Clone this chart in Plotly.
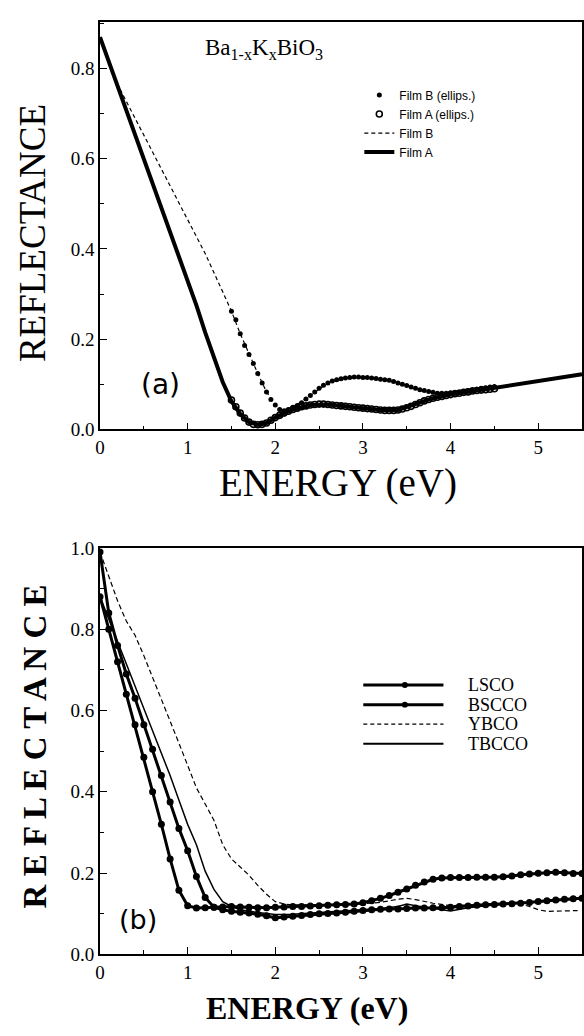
import plotly.graph_objects as go

W, H = 584, 1036
def px(x): return x / W
def py(y): return 1 - y / H

# ---------------- Panel (a): Ba1-xKxBiO3 ----------------
filmA_line_x = [0, 0.25, 0.5, 0.75, 1.0, 1.1, 1.2, 1.3, 1.4, 1.5, 1.6, 1.7, 1.8, 1.9, 2.0,
                2.2, 2.4, 2.6, 2.8, 3.0, 3.2, 3.4, 3.6, 3.8, 4.0, 4.2, 4.4, 4.6, 4.8, 5.0,
                5.2, 5.4, 5.5]
filmA_line_y = [0.87, 0.735, 0.60, 0.465, 0.33, 0.275, 0.215, 0.16, 0.105, 0.062, 0.034,
                0.016, 0.010, 0.014, 0.026, 0.044, 0.054, 0.055, 0.051, 0.047, 0.043, 0.043,
                0.055, 0.069, 0.077, 0.083, 0.088, 0.094, 0.100, 0.106, 0.113, 0.119, 0.122]

filmB_line_x = [0, 0.1, 0.2, 0.4, 0.6, 0.8, 1.0, 1.2, 1.4, 1.5, 1.6, 1.7, 1.8, 1.9, 2.0,
                2.1, 2.2, 2.4, 2.6, 2.8, 3.0, 3.2, 3.4, 3.6, 3.8, 4.0, 4.2, 4.4, 4.6, 4.8,
                5.0, 5.2, 5.4, 5.5]
filmB_line_y = [0.87, 0.815, 0.765, 0.69, 0.615, 0.54, 0.465, 0.39, 0.305, 0.262, 0.212,
                0.166, 0.124, 0.083, 0.054, 0.041, 0.049, 0.075, 0.103, 0.114, 0.115, 0.111,
                0.103, 0.091, 0.082, 0.081, 0.086, 0.092, 0.097, 0.101, 0.106, 0.113, 0.119,
                0.122]

ellips_x = [round(1.5 + 0.05 * i, 2) for i in range(61)]
filmB_ellips_y = [0.262, 0.243, 0.212, 0.186, 0.166, 0.146, 0.124, 0.103, 0.083, 0.066,
                  0.054, 0.044, 0.041, 0.044, 0.049, 0.053, 0.059, 0.067, 0.075, 0.083,
                  0.091, 0.098, 0.103, 0.107, 0.110, 0.112, 0.114, 0.115, 0.116, 0.116,
                  0.115, 0.115, 0.114, 0.113, 0.111, 0.110, 0.109, 0.106, 0.103, 0.100,
                  0.097, 0.094, 0.091, 0.088, 0.086, 0.084, 0.082, 0.080, 0.080, 0.080,
                  0.081, 0.082, 0.083, 0.084, 0.086, 0.088, 0.089, 0.091, 0.092, 0.094,
                  0.095]
filmA_ellips_y = [0.065, 0.050, 0.036, 0.025, 0.016, 0.011, 0.010, 0.011, 0.014, 0.020,
                  0.026, 0.031, 0.036, 0.040, 0.044, 0.047, 0.050, 0.052, 0.054, 0.055,
                  0.056, 0.056, 0.055, 0.054, 0.053, 0.052, 0.051, 0.050, 0.049, 0.048,
                  0.047, 0.046, 0.045, 0.044, 0.043, 0.042, 0.042, 0.042, 0.043, 0.045,
                  0.048, 0.051, 0.055, 0.059, 0.063, 0.066, 0.069, 0.071, 0.073, 0.075,
                  0.077, 0.079, 0.080, 0.082, 0.083, 0.085, 0.086, 0.087, 0.088, 0.089,
                  0.090]

# ---------------- Panel (b): cuprates ----------------
grid_x = [round(0.1 * i, 1) for i in range(56)]
lsco_y = [0.88, 0.80, 0.72, 0.64, 0.565, 0.485, 0.40, 0.32, 0.235, 0.158, 0.12, 0.114,
          0.115, 0.116, 0.117, 0.118, 0.117, 0.116, 0.115, 0.115, 0.116, 0.117, 0.118,
          0.118, 0.119, 0.120, 0.121, 0.122, 0.123, 0.124, 0.127, 0.132, 0.138, 0.145,
          0.153, 0.161, 0.170, 0.178, 0.185, 0.188, 0.189, 0.189, 0.189, 0.190, 0.190,
          0.190, 0.191, 0.193, 0.196, 0.198, 0.200, 0.201, 0.202, 0.201, 0.199, 0.199]
bscco_y = [0.99, 0.84, 0.76, 0.69, 0.63, 0.565, 0.505, 0.44, 0.375, 0.31, 0.255, 0.192,
           0.14, 0.116, 0.11, 0.106, 0.104, 0.102, 0.099, 0.095, 0.09, 0.092, 0.094, 0.096,
           0.098, 0.100, 0.101, 0.102, 0.104, 0.106, 0.108, 0.110, 0.111, 0.112, 0.112,
           0.113, 0.114, 0.114, 0.115, 0.115, 0.116, 0.118, 0.119, 0.121, 0.122, 0.123,
           0.124, 0.125, 0.126, 0.128, 0.130, 0.132, 0.134, 0.136, 0.137, 0.138]
ybco_x = [0.0, 0.1, 0.2, 0.3, 0.4, 0.5, 0.6, 0.7, 0.8, 0.9, 1.0, 1.1, 1.2, 1.3, 1.4, 1.5,
          1.6, 1.7, 1.8, 1.9, 2.0, 2.1, 2.2, 2.4, 2.6, 2.8, 3.0, 3.2, 3.4, 3.5, 3.6, 3.7,
          3.8, 4.0, 4.2, 4.4, 4.6, 4.8, 4.9, 5.0, 5.1, 5.3, 5.45]
ybco_y = [0.99, 0.93, 0.87, 0.82, 0.785, 0.735, 0.68, 0.63, 0.575, 0.52, 0.465, 0.41,
          0.37, 0.33, 0.27, 0.235, 0.215, 0.195, 0.17, 0.148, 0.13, 0.124, 0.122, 0.122,
          0.122, 0.123, 0.125, 0.128, 0.136, 0.138, 0.135, 0.13, 0.126, 0.12, 0.122,
          0.124, 0.125, 0.124, 0.118, 0.11, 0.106, 0.107, 0.108]
tbcco_x = [0.0, 0.2, 0.4, 0.6, 0.8, 0.9, 1.0, 1.1, 1.2, 1.3, 1.4, 1.5, 1.6, 1.8, 2.0,
           2.2, 2.4, 2.6, 2.8, 3.0, 3.2, 3.4, 3.5, 3.6, 3.8, 4.0, 4.2, 4.4, 4.6, 4.8,
           5.0, 5.2, 5.5]
tbcco_y = [0.88, 0.77, 0.665, 0.555, 0.44, 0.38, 0.32, 0.27, 0.205, 0.16, 0.13, 0.118,
           0.11, 0.103, 0.098, 0.099, 0.102, 0.105, 0.108, 0.111, 0.113, 0.118, 0.124,
           0.12, 0.113, 0.107, 0.115, 0.12, 0.123, 0.126, 0.13, 0.133, 0.137]

x_ticks = [0, 1, 2, 3, 4, 5]
y_ticks_a = [0.0, 0.2, 0.4, 0.6, 0.8]
y_ticks_b = [0.0, 0.2, 0.4, 0.6, 0.8, 1.0]

SERIF = "Liberation Serif"
SANS = "Liberation Sans"

# panel geometry (px)
A_TOP, A_BOT = 12, 428
B_TOP, B_BOT = 549, 964

fig = go.Figure()

fig.add_trace(go.Scatter(x=filmA_line_x, y=filmA_line_y, mode="lines", name="Film A",
                         line=dict(color="black", width=4), legendrank=4,
                         xaxis="x", yaxis="y"))
fig.add_trace(go.Scatter(x=filmB_line_x, y=filmB_line_y, mode="lines", name="Film B",
                         line=dict(color="black", width=1.2, dash="4px,3px"), legendrank=3,
                         xaxis="x", yaxis="y"))
fig.add_trace(go.Scatter(x=ellips_x, y=filmA_ellips_y, mode="markers", name="Film A (ellips.)",
                         marker=dict(symbol="circle-open", size=6, color="black",
                                     line=dict(width=1.6, color="black")), legendrank=2,
                         xaxis="x", yaxis="y"))
fig.add_trace(go.Scatter(x=ellips_x, y=filmB_ellips_y, mode="markers", name="Film B (ellips.)",
                         marker=dict(symbol="circle", size=5, color="black"), legendrank=1,
                         xaxis="x", yaxis="y"))

fig.add_trace(go.Scatter(x=tbcco_x, y=tbcco_y, mode="lines", name="TBCCO", showlegend=False,
                         line=dict(color="black", width=1.5), xaxis="x2", yaxis="y2"))
fig.add_trace(go.Scatter(x=ybco_x, y=ybco_y, mode="lines", name="YBCO", showlegend=False,
                         line=dict(color="black", width=1.2, dash="5px,3px"),
                         xaxis="x2", yaxis="y2"))
fig.add_trace(go.Scatter(x=grid_x, y=lsco_y, mode="lines+markers", name="LSCO", showlegend=False,
                         line=dict(color="black", width=3),
                         marker=dict(symbol="circle", size=7, color="black"),
                         xaxis="x2", yaxis="y2"))
fig.add_trace(go.Scatter(x=grid_x, y=bscco_y, mode="lines+markers", name="BSCCO", showlegend=False,
                         line=dict(color="black", width=3),
                         marker=dict(symbol="circle", size=7, color="black"),
                         xaxis="x2", yaxis="y2"))

def xaxis(anchor, lw):
    return dict(domain=[px(96), px(583)], range=[0, 5.5], anchor=anchor,
                tickvals=x_ticks, ticks="inside", ticklen=7, tickwidth=1.3, tickcolor="black",
                minor=dict(ticks="inside", ticklen=4, tickwidth=1.2, tick0=0, dtick=0.5,
                           tickcolor="black"),
                showline=True, linecolor="black", linewidth=lw, mirror=True,
                showgrid=False, zeroline=False,
                tickfont=dict(family=SERIF, size=19, color="black"))

def yaxis(anchor, dom, rng, vals, lw):
    return dict(domain=dom, range=rng, anchor=anchor, tickvals=vals, tickformat=".1f",
                ticks="inside", ticklen=7, tickwidth=1.3, tickcolor="black",
                minor=dict(ticks="inside", ticklen=4, tickwidth=1.2, tick0=0, dtick=0.1,
                           tickcolor="black"),
                showline=True, linecolor="black", linewidth=lw, mirror=True,
                showgrid=False, zeroline=False,
                tickfont=dict(family=SERIF, size=19, color="black"))

annotations = [
    dict(text="Ba<sub>1-x</sub>K<sub>x</sub>BiO<sub>3</sub>", x=px(200), y=py(40),
         xanchor="left", yanchor="middle", font=dict(family=SERIF, size=23, color="black")),
    dict(text="(a)", x=px(157), y=py(382), xanchor="center", yanchor="middle",
         font=dict(family="DejaVu Sans", size=28, color="black")),
    dict(text="(b)", x=px(134), y=py(928), xanchor="center", yanchor="middle",
         font=dict(family="DejaVu Sans", size=27, color="black")),
    dict(text="REFLECTANCE", x=px(28), y=py(228), textangle=-90, xanchor="center",
         yanchor="middle", font=dict(family=SERIF, size=37, color="black")),
    dict(text="ENERGY (eV)", x=px(336), y=py(483), xanchor="center", yanchor="middle",
         font=dict(family=SERIF, size=39, color="black")),
    dict(text="<b>R E F L E C T A N C E</b>", x=px(30), y=py(752), textangle=-90,
         xanchor="center", yanchor="middle", font=dict(family=SERIF, size=33, color="black")),
    dict(text="<b>ENERGY (eV)</b>", x=px(305), y=py(1019), xanchor="center", yanchor="middle",
         font=dict(family=SERIF, size=32, color="black")),
]

leg_names = ["LSCO", "BSCCO", "YBCO", "TBCCO"]
leg_rows = [689, 709, 729, 749]
shapes = []
for name, yy in zip(leg_names, leg_rows):
    if name in ("LSCO", "BSCCO"):
        shapes.append(dict(type="line", xref="paper", yref="paper", x0=px(362), x1=px(443),
                           y0=py(yy), y1=py(yy), line=dict(color="black", width=3)))
        shapes.append(dict(type="circle", xref="paper", yref="paper", x0=px(401), x1=px(407),
                           y0=py(yy + 3), y1=py(yy - 3), fillcolor="black",
                           line=dict(color="black", width=0)))
    elif name == "YBCO":
        shapes.append(dict(type="line", xref="paper", yref="paper", x0=px(362), x1=px(443),
                           y0=py(yy), y1=py(yy), line=dict(color="black", width=1.2, dash="4px,3px")))
    else:
        shapes.append(dict(type="line", xref="paper", yref="paper", x0=px(362), x1=px(443),
                           y0=py(yy), y1=py(yy), line=dict(color="black", width=2)))
    annotations.append(dict(text=name, x=px(466), y=py(yy), xanchor="left", yanchor="middle",
                            font=dict(family=SERIF, size=18, color="black")))

for a in annotations:
    a.setdefault("xref", "paper")
    a.setdefault("yref", "paper")
    a.setdefault("showarrow", False)

fig.update_layout(
    width=W, height=H, margin=dict(l=0, r=0, t=0, b=0),
    paper_bgcolor="white", plot_bgcolor="white",
    xaxis=xaxis("y", 1.5),
    yaxis=yaxis("x", [py(A_BOT), py(A_TOP)], [0, 0.904], y_ticks_a, 1.5),
    xaxis2=xaxis("y2", 2),
    yaxis2=yaxis("x2", [py(B_BOT), py(B_TOP)], [0, 1.0], y_ticks_b, 2),
    showlegend=True,
    legend=dict(x=px(358), y=py(72), xanchor="left", yanchor="top",
                font=dict(family=SANS, size=12, color="black"),
                bgcolor="rgba(0,0,0,0)", tracegroupgap=0, itemsizing="trace"),
    annotations=annotations,
    shapes=shapes,
)

fig.write_html("out.html")
